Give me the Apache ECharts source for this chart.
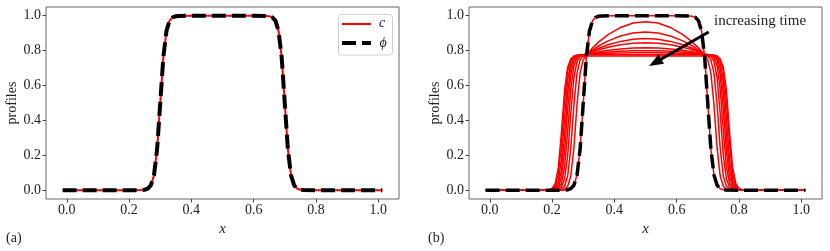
<!DOCTYPE html>
<html><head><meta charset="utf-8">
<script src="https://cdn.jsdelivr.net/npm/echarts@6/dist/echarts.min.js"></script>
<style>html,body{margin:0;padding:0;background:#fff}#c{width:830px;height:251px}</style>
</head><body><div id="c"></div>
<script>
// tick labels
const xTicks = [0, 0.2, 0.4, 0.6, 0.8, 1.0];
const yTicks = [0, 0.2, 0.4, 0.6, 0.8, 1.0];

// panel (a): grid of x and the two profiles
const xA = [-0.0135, 0.1, 0.2, 0.24, 0.25, 0.26, 0.27, 0.28, 0.29, 0.30, 0.31, 0.32, 0.33, 0.34, 0.35, 0.36, 0.4, 0.5, 0.6, 0.64, 0.65, 0.66, 0.67, 0.68, 0.69, 0.70, 0.71, 0.72, 0.73, 0.74, 0.75, 0.76, 0.8, 0.9, 1.0135];
const phiA = [0, 0, 0, 0.001, 0.003, 0.009, 0.029, 0.087, 0.236, 0.5, 0.764, 0.913, 0.972, 0.991, 0.997, 0.999, 1, 1, 1, 0.999, 0.997, 0.991, 0.972, 0.913, 0.764, 0.5, 0.236, 0.087, 0.029, 0.009, 0.003, 0.001, 0, 0, 0];
const cA = [0, 0, 0, 0.001, 0.003, 0.009, 0.029, 0.087, 0.236, 0.5, 0.764, 0.913, 0.972, 0.991, 0.997, 0.999, 1, 1, 1, 0.999, 0.997, 0.991, 0.972, 0.913, 0.764, 0.5, 0.236, 0.087, 0.029, 0.009, 0.003, 0.001, 0, 0, 0];

// panel (b): phi, initial c (on xA) and c at later times (on xB)
const phiB = [0, 0, 0, 0.001, 0.003, 0.009, 0.029, 0.087, 0.236, 0.5, 0.764, 0.913, 0.972, 0.991, 0.997, 0.999, 1, 1, 1, 0.999, 0.997, 0.991, 0.972, 0.913, 0.764, 0.5, 0.236, 0.087, 0.029, 0.009, 0.003, 0.001, 0, 0, 0];
const cB0 = [0, 0, 0, 0.001, 0.003, 0.009, 0.029, 0.087, 0.236, 0.5, 0.764, 0.913, 0.972, 0.991, 0.997, 0.999, 1, 1, 1, 0.999, 0.997, 0.991, 0.972, 0.913, 0.764, 0.5, 0.236, 0.087, 0.029, 0.009, 0.003, 0.001, 0, 0, 0];
const xB = [-0.0135, 0.1, 0.19, 0.2, 0.21, 0.22, 0.23, 0.24, 0.25, 0.26, 0.27, 0.28, 0.29, 0.3, 0.31, 0.32, 0.33, 0.35, 0.38, 0.42, 0.46, 0.5, 0.54, 0.58, 0.62, 0.65, 0.67, 0.68, 0.69, 0.7, 0.71, 0.72, 0.73, 0.74, 0.75, 0.76, 0.77, 0.78, 0.79, 0.8, 0.81, 0.9, 1.0135];
const cB1 = [0, 0, 0, 0, 0, 0, 0.002, 0.006, 0.023, 0.082, 0.241, 0.49, 0.673, 0.747, 0.771, 0.797, 0.816, 0.85, 0.892, 0.933, 0.958, 0.966, 0.958, 0.933, 0.892, 0.85, 0.816, 0.797, 0.771, 0.747, 0.673, 0.49, 0.241, 0.082, 0.023, 0.006, 0.002, 0, 0, 0, 0, 0, 0];
const cB2 = [0, 0, 0, 0, 0, 0.002, 0.006, 0.023, 0.082, 0.241, 0.49, 0.673, 0.747, 0.768, 0.778, 0.792, 0.805, 0.828, 0.856, 0.884, 0.901, 0.907, 0.901, 0.884, 0.856, 0.828, 0.805, 0.792, 0.778, 0.768, 0.747, 0.673, 0.49, 0.241, 0.082, 0.023, 0.006, 0.002, 0, 0, 0, 0, 0];
const cB3 = [0, 0, 0, 0, 0.001, 0.005, 0.018, 0.065, 0.199, 0.44, 0.646, 0.738, 0.766, 0.774, 0.779, 0.789, 0.798, 0.814, 0.834, 0.853, 0.865, 0.869, 0.865, 0.853, 0.834, 0.814, 0.798, 0.789, 0.779, 0.774, 0.766, 0.738, 0.646, 0.44, 0.199, 0.065, 0.018, 0.005, 0.001, 0, 0, 0, 0];
const cB4 = [0, 0, 0, 0.001, 0.003, 0.011, 0.039, 0.131, 0.337, 0.578, 0.713, 0.759, 0.772, 0.776, 0.78, 0.787, 0.793, 0.805, 0.819, 0.834, 0.842, 0.845, 0.842, 0.834, 0.819, 0.805, 0.793, 0.787, 0.78, 0.776, 0.772, 0.759, 0.713, 0.578, 0.337, 0.131, 0.039, 0.011, 0.003, 0.001, 0, 0, 0];
const cB5 = [0, 0, 0, 0.001, 0.006, 0.021, 0.073, 0.219, 0.465, 0.66, 0.742, 0.768, 0.775, 0.776, 0.78, 0.784, 0.787, 0.794, 0.802, 0.81, 0.815, 0.817, 0.815, 0.81, 0.802, 0.794, 0.787, 0.784, 0.78, 0.776, 0.775, 0.768, 0.742, 0.66, 0.465, 0.219, 0.073, 0.021, 0.006, 0.001, 0, 0, 0];
const cB6 = [0, 0, 0.001, 0.002, 0.009, 0.035, 0.117, 0.312, 0.558, 0.704, 0.756, 0.771, 0.776, 0.777, 0.78, 0.782, 0.784, 0.788, 0.792, 0.797, 0.799, 0.8, 0.799, 0.797, 0.792, 0.788, 0.784, 0.782, 0.78, 0.777, 0.776, 0.771, 0.756, 0.704, 0.558, 0.312, 0.117, 0.035, 0.009, 0.002, 0.001, 0, 0];
const cB7 = [0, 0, 0.001, 0.004, 0.016, 0.057, 0.179, 0.414, 0.631, 0.732, 0.765, 0.774, 0.776, 0.777, 0.78, 0.781, 0.782, 0.783, 0.785, 0.787, 0.788, 0.788, 0.788, 0.787, 0.785, 0.783, 0.782, 0.781, 0.78, 0.777, 0.776, 0.774, 0.765, 0.732, 0.631, 0.414, 0.179, 0.057, 0.016, 0.004, 0.001, 0, 0];
const cB8 = [0, 0, 0.002, 0.007, 0.026, 0.092, 0.263, 0.513, 0.684, 0.75, 0.769, 0.774, 0.775, 0.776, 0.776, 0.776, 0.776, 0.776, 0.776, 0.776, 0.776, 0.776, 0.776, 0.776, 0.776, 0.776, 0.776, 0.776, 0.776, 0.776, 0.775, 0.774, 0.769, 0.75, 0.684, 0.513, 0.263, 0.092, 0.026, 0.007, 0.002, 0, 0];
const cB9 = [0, 0, 0.003, 0.011, 0.039, 0.129, 0.334, 0.572, 0.705, 0.751, 0.764, 0.768, 0.769, 0.769, 0.769, 0.769, 0.769, 0.769, 0.769, 0.769, 0.769, 0.769, 0.769, 0.769, 0.769, 0.769, 0.769, 0.769, 0.769, 0.769, 0.769, 0.768, 0.764, 0.751, 0.705, 0.572, 0.334, 0.129, 0.039, 0.011, 0.003, 0, 0];

// annotation (data coordinates of arrow in panel b)
const arrowFrom = [0.703, 0.907];
const arrowTo = [0.531, 0.732];
const annotText = 'increasing time';

function pairs(xs, ys) { return xs.map((x, i) => [x, ys[i]]); }

const FONT = '"Liberation Serif", "DejaVu Serif", serif';
const AXC = '#444';

function xAxisCfg(gi) {
  return {
    gridIndex: gi, type: 'value', min: -0.067, max: 1.067, position: 'bottom',
    axisLine: { show: false, onZero: false }, splitLine: { show: false },
    axisTick: { show: true, customValues: xTicks, length: 3.5, lineStyle: { color: AXC, width: 1 } },
    axisLabel: { customValues: xTicks, formatter: v => v.toFixed(1), fontFamily: FONT, fontSize: 14, color: '#222', margin: 4 },
    name: 'x', nameLocation: 'middle', nameGap: 19,
    nameTextStyle: { fontFamily: FONT, fontStyle: 'italic', fontSize: 15, color: '#222' }
  };
}
function yAxisCfg(gi) {
  return {
    gridIndex: gi, type: 'value', min: -0.05, max: 1.05, position: 'left',
    axisLine: { show: false, onZero: false }, splitLine: { show: false },
    axisTick: { show: true, customValues: yTicks, length: 3.5, lineStyle: { color: AXC, width: 1 } },
    axisLabel: { customValues: yTicks, formatter: v => v.toFixed(1), fontFamily: FONT, fontSize: 14, color: '#222', margin: 5 },
    name: 'profiles', nameLocation: 'middle', nameRotate: 90, nameGap: 23,
    nameTextStyle: { fontFamily: FONT, fontSize: 14, color: '#222' }
  };
}
function redLine(gi, xs, ys, w) {
  return { type: 'line', xAxisIndex: gi, yAxisIndex: gi, data: pairs(xs, ys), symbol: 'none', showSymbol: false,
    silent: true, lineStyle: { color: '#ff0000', width: w }, z: 2 };
}

const chart = echarts.init(document.getElementById('c'), null, { renderer: 'canvas' });
const series = [
  redLine(0, xA, cA, 2),
  { type: 'line', xAxisIndex: 0, yAxisIndex: 0, data: pairs(xA, phiA), symbol: 'none', showSymbol: false, silent: true,
    lineStyle: { color: '#000', width: 4, type: [14, 6] }, z: 3 },
  redLine(1, xA, cB0, 1.5),
  redLine(1, xB, cB1, 1.5),
  redLine(1, xB, cB2, 1.5),
  redLine(1, xB, cB3, 1.5),
  redLine(1, xB, cB4, 1.5),
  redLine(1, xB, cB5, 1.5),
  redLine(1, xB, cB6, 1.5),
  redLine(1, xB, cB7, 1.5),
  redLine(1, xB, cB8, 1.5),
  redLine(1, xB, cB9, 1.5),
  { type: 'line', xAxisIndex: 1, yAxisIndex: 1, data: pairs(xA, phiB), symbol: 'none', showSymbol: false, silent: true,
    lineStyle: { color: '#000', width: 3.5, type: [14, 6] }, z: 3,
    markLine: { silent: true, animation: false, symbol: ['none', 'triangle'], symbolSize: [11, 14],
      lineStyle: { color: '#000', width: 3, type: 'solid' }, itemStyle: { color: '#000' },
      label: { show: false }, emphasis: { disabled: true },
      data: [[{ coord: arrowFrom }, { coord: arrowTo }]] } }
];

const tstyle = (text, x, y, italic, size, align) => ({
  type: 'text', x: x, y: y, z: 100, silent: true,
  style: { text: text, font: (italic ? 'italic ' : '') + size + 'px ' + FONT, fill: '#222',
    align: align || 'left', textAlign: align || 'left', verticalAlign: 'middle', textVerticalAlign: 'middle' }
});

chart.setOption({
  animation: false,
  backgroundColor: '#fff',
  grid: [
    { left: 46, top: 7, width: 353, height: 192, show: true, borderColor: '#666', borderWidth: 1, backgroundColor: 'transparent' },
    { left: 469, top: 7, width: 353, height: 192, show: true, borderColor: '#666', borderWidth: 1, backgroundColor: 'transparent' }
  ],
  xAxis: [xAxisCfg(0), xAxisCfg(1)],
  yAxis: [yAxisCfg(0), yAxisCfg(1)],
  series: series,
  graphic: [
    { type: 'rect', z: 90, silent: true, shape: { x: 338.5, y: 14.5, width: 54, height: 40.5, r: 3 },
      style: { fill: 'rgba(255,255,255,0.8)', stroke: '#d0d0d0', lineWidth: 1 } },
    { type: 'line', z: 91, silent: true, shape: { x1: 342, y1: 24, x2: 371, y2: 24 }, style: { stroke: '#ff0000', lineWidth: 2 } },
    { type: 'line', z: 91, silent: true, shape: { x1: 342, y1: 43, x2: 371, y2: 43 }, style: { stroke: '#000', lineWidth: 4, lineDash: [14, 6] } },
    tstyle('c', 382, 23, true, 14, 'center'),
    tstyle('ϕ', 383, 43, true, 14, 'center'),
    tstyle(annotText, 714, 21, false, 15, 'left'),
    tstyle('(a)', 6, 238, false, 14, 'left'),
    tstyle('(b)', 428, 238, false, 14, 'left')
  ]
});
</script>
</body></html>
